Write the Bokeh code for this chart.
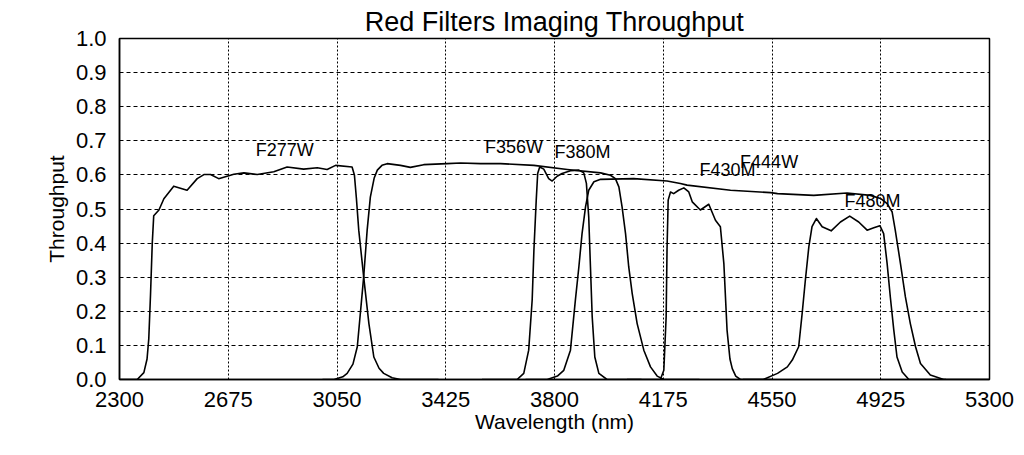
from bokeh.plotting import figure
from bokeh.models import FixedTicker, Range1d, Label, NumeralTickFormatter
from bokeh.embed import file_html
from bokeh.resources import INLINE

# ---- data ----
f277w_wl = [2300, 2361, 2384, 2395, 2401, 2407, 2413, 2418, 2436, 2453, 2487, 2533, 2568, 2591,
            2614, 2642, 2694, 2729, 2775, 2832, 2878, 2935, 2982, 3016, 3045, 3102, 3110, 3117,
            3125, 3142, 3160, 3177, 3195, 3211, 3240, 3269, 3400]
f277w_tp = [0, 0, 0.02, 0.06, 0.12, 0.25, 0.40, 0.48, 0.497, 0.53, 0.567, 0.555, 0.589, 0.601,
            0.601, 0.589, 0.602, 0.606, 0.601, 0.609, 0.623, 0.617, 0.621, 0.616, 0.628, 0.623,
            0.60, 0.53, 0.438, 0.301, 0.164, 0.066, 0.033, 0.018, 0.005, 0, 0]

f356w_wl = [3000, 3040, 3070, 3085, 3105, 3120, 3142, 3154, 3165, 3178, 3189, 3205, 3223, 3269,
            3303, 3349, 3430, 3476, 3545, 3614, 3729, 3844, 3959, 3993, 4010, 4022, 4033, 4045,
            4056, 4068, 4085, 4108, 4131, 4154, 4177, 4300]
f356w_tp = [0, 0, 0.008, 0.018, 0.045, 0.096, 0.301, 0.438, 0.535, 0.59, 0.614, 0.628, 0.633,
            0.628, 0.622, 0.630, 0.633, 0.635, 0.633, 0.633, 0.628, 0.616, 0.606, 0.599, 0.589,
            0.565, 0.506, 0.428, 0.33, 0.252, 0.164, 0.086, 0.037, 0.01, 0, 0]

f380m_wl = [3550, 3671, 3694, 3711, 3723, 3729, 3737, 3742, 3749, 3763, 3780, 3792, 3809, 3826,
            3855, 3884, 3901, 3910, 3918, 3924, 3930, 3939, 3953, 3981, 4100]
f380m_tp = [0, 0, 0.018, 0.086, 0.233, 0.379, 0.526, 0.604, 0.623, 0.617, 0.589, 0.582, 0.596,
            0.604, 0.612, 0.614, 0.606, 0.575, 0.477, 0.33, 0.184, 0.066, 0.018, 0, 0]

f430m_wl = [4050, 4165, 4177, 4185, 4188, 4192, 4200, 4211, 4228, 4246, 4263, 4275, 4303, 4332,
            4355, 4372, 4384, 4395, 4405, 4413, 4425, 4441, 4550]
f430m_tp = [0, 0, 0.027, 0.184, 0.379, 0.526, 0.55, 0.545, 0.555, 0.562, 0.55, 0.521, 0.497,
            0.514, 0.467, 0.448, 0.34, 0.145, 0.06, 0.032, 0.01, 0, 0]

f444w_wl = [3700, 3775, 3810, 3832, 3855, 3872, 3884, 3895, 3907, 3918, 3936, 3959, 4073, 4188,
            4234, 4257, 4407, 4545, 4569, 4694, 4809, 4889, 4924, 4947, 4964, 4975, 4993, 5010,
            5027, 5045, 5062, 5096, 5142, 5300]
f444w_tp = [0, 0, 0.01, 0.027, 0.086, 0.233, 0.33, 0.428, 0.506, 0.555, 0.58, 0.587, 0.589,
            0.582, 0.575, 0.57, 0.555, 0.548, 0.545, 0.54, 0.547, 0.54, 0.531, 0.516, 0.492,
            0.438, 0.34, 0.242, 0.164, 0.096, 0.047, 0.013, 0, 0]

f480m_wl = [4450, 4520, 4569, 4603, 4620, 4642, 4654, 4665, 4677, 4688, 4703, 4723, 4754, 4786,
            4818, 4849, 4878, 4901, 4922, 4935, 4947, 4958, 4970, 4981, 4999, 5022, 5150]
f480m_tp = [0, 0, 0.018, 0.037, 0.057, 0.096, 0.194, 0.291, 0.389, 0.448, 0.472, 0.448, 0.436,
            0.462, 0.479, 0.462, 0.438, 0.445, 0.451, 0.428, 0.34, 0.242, 0.145, 0.066, 0.022, 0, 0]

filter_names = ["F277W", "F356W", "F380M", "F430M", "F444W", "F480M"]
label_wl = [2770, 3560, 3800, 4300, 4440, 4800]
label_tp = [0.672, 0.681, 0.667, 0.614, 0.637, 0.524]

x_ticks = [2300, 2675, 3050, 3425, 3800, 4175, 4550, 4925, 5300]
y_ticks = [0.0, 0.1, 0.2, 0.3, 0.4, 0.5, 0.6, 0.7, 0.8, 0.9, 1.0]

FONT = "Liberation Sans"

p = figure(width=1024, height=455, output_backend="svg", toolbar_location=None,
           x_range=Range1d(2300, 5300), y_range=Range1d(0, 1),
           title="Red Filters Imaging Throughput",
           x_axis_label="Wavelength (nm)", y_axis_label="Throughput")
p.min_border_left = 119
p.min_border_right = 35
p.min_border_top = 38
p.min_border_bottom = 76
p.background_fill_color = "white"
p.border_fill_color = "white"

p.title.align = "center"
p.title.vertical_align = "top"
p.title.text_font = FONT
p.title.text_font_size = "27px"
p.title.text_font_style = "normal"
p.title.text_color = "black"
p.title.standoff = 0
p.title.offset = 0

p.outline_line_color = "black"
p.outline_line_width = 1.5
p.outline_line_alpha = 1

for ax in (p.xaxis[0], p.yaxis[0]):
    ax.axis_line_color = "black"
    ax.axis_line_width = 1.5
    ax.major_tick_line_color = None
    ax.minor_tick_line_color = None
    ax.major_label_text_font = FONT
    ax.major_label_text_font_size = "22px"
    ax.major_label_text_color = "black"
    ax.axis_label_text_font = FONT
    ax.axis_label_text_font_size = "21px"
    ax.axis_label_text_font_style = "normal"
    ax.axis_label_text_color = "black"

p.xaxis[0].ticker = FixedTicker(ticks=x_ticks)
p.yaxis[0].ticker = FixedTicker(ticks=y_ticks)
p.yaxis[0].formatter = NumeralTickFormatter(format="0.0")
p.xaxis[0].major_label_standoff = 6
p.yaxis[0].major_label_standoff = 7
p.xaxis[0].axis_label_standoff = 0
p.yaxis[0].axis_label_standoff = 5

p.xgrid[0].ticker = FixedTicker(ticks=x_ticks)
p.ygrid[0].ticker = FixedTicker(ticks=y_ticks)
p.xgrid.grid_line_color = "black"
p.xgrid.grid_line_dash = "2 2"
p.xgrid.grid_line_width = 1
p.ygrid.grid_line_color = "black"
p.ygrid.grid_line_dash = "4 3"
p.ygrid.grid_line_width = 1

curves = [(f277w_wl, f277w_tp), (f356w_wl, f356w_tp), (f380m_wl, f380m_tp),
          (f430m_wl, f430m_tp), (f444w_wl, f444w_tp), (f480m_wl, f480m_tp)]
for wl, tp in curves:
    p.line(wl, tp, line_color="black", line_width=1.6, line_join="round")

for name, lx, ly in zip(filter_names, label_wl, label_tp):
    p.add_layout(Label(x=lx, y=ly, text=name, text_font=FONT, text_font_size="18px",
                       text_color="black", text_baseline="alphabetic", text_align="left"))

open("out.html", "w").write(file_html(p, INLINE))
